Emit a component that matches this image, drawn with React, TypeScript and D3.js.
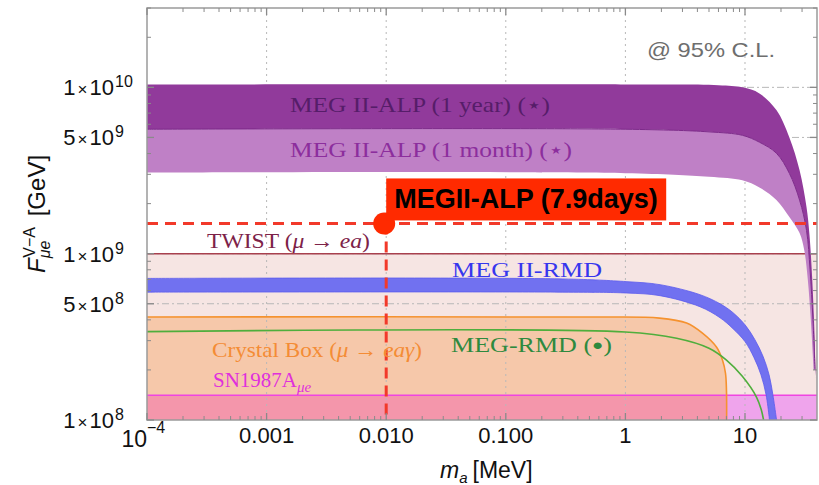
import React from "react";
import * as d3 from "d3";

const WIDTH = 819;
const HEIGHT = 485;

// Axis domains: ALP mass m_a in MeV, effective scale F in GeV
const massDomain: [number, number] = [1e-4, 40];
const scaleDomain: [number, number] = [1e8, 3e10];

// Each curve is a list of [m_a (MeV), F (GeV)] points
const alp1YearUpper: [number, number][] = [
  [1e-4, 1.04e10], [1, 1.04e10], [6, 1.03e10], [9.5, 1.0e10], [13.2, 9.2e9],
  [18.3, 7.3e9], [23.5, 5.0e9], [28.6, 3.17e9], [32.7, 1.9e9], [34.6, 1.3e9],
  [36.5, 7e8], [38, 3.5e8], [39, 1.8e8],
];
const alp1YearLower: [number, number][] = [
  [1e-4, 5.6e9], [1, 5.6e9], [5, 5.4e9], [9.5, 5.15e9], [13.2, 4.68e9],
  [18.3, 4.02e9], [23.5, 3.04e9], [28.6, 2.1e9], [32.7, 1.38e9], [35, 8e8],
  [37, 4e8], [38.5, 2e8],
];
const alp1MonthLower: [number, number][] = [
  [1e-4, 3.07e9], [1, 3.05e9], [5, 2.9e9], [9.5, 2.76e9], [13.2, 2.5e9],
  [18.3, 2.1e9], [23.5, 1.66e9], [28.6, 1.33e9], [31.3, 1.05e9], [33.5, 7e8],
  [35.5, 4e8], [37.5, 2e8],
];
const megIIRmdUpper: [number, number][] = [
  [1e-4, 7.1e8], [0.3, 7.05e8], [1.03, 6.79e8], [1.95, 6.51e8], [4.2, 5.67e8],
  [6.18, 5.0e8], [7.94, 4.42e8], [10, 3.74e8], [12.1, 3.04e8], [14.2, 2.4e8],
  [15.9, 1.87e8], [17.1, 1.42e8], [18.2, 1.05e8], [18.4, 1e8],
];
const megIIRmdLower: [number, number][] = [
  [1e-4, 5.87e8], [0.3, 5.87e8], [1.03, 5.8e8], [1.95, 5.59e8], [4.2, 4.8e8],
  [6.18, 4.12e8], [7.94, 3.54e8], [10, 2.96e8], [11.9, 2.37e8], [13.6, 1.87e8],
  [15.0, 1.42e8], [15.9, 1.05e8], [16.0, 1e8],
];
const crystalBox: [number, number][] = [
  [1e-4, 4.16e8], [0.5, 4.16e8], [1.93, 4.1e8], [3.25, 3.83e8], [4.41, 3.33e8],
  [5.79, 2.74e8], [6.49, 2.29e8], [6.87, 1.91e8], [7.0, 1.5e8], [7.02, 1e8],
];
const megRmd: [number, number][] = [
  [1e-4, 3.4e8], [1, 3.38e8], [2.68, 3.1e8], [5.0, 2.7e8], [7.0, 2.29e8],
  [9.5, 1.83e8], [12.5, 1.37e8], [13.7, 1.15e8], [14.3, 1e8],
];
const twistLimit = 1e9;
const sn1987aLimit = 1.41e8;
const megIIAlpMass = 0.01;
const megIIAlpScale = 1.52e9;

// Tick labels
const xTickValues = [1e-4, 1e-3, 1e-2, 1e-1, 1, 10];
const xTickLabels = ["10", "0.001", "0.010", "0.100", "1", "10"];
const yTickValues = [1e10, 5e9, 1e9, 5e8, 1e8];
const yTickMantissas = ["1", "5", "1", "5", "1"];
const yTickExponents = ["10", "9", "9", "8", "8"];

const SANS = "'Liberation Sans', Arial, sans-serif";
const SERIF = "'Liberation Serif', 'DejaVu Serif', serif";

export default function App() {
  const x = d3.scaleLog().domain(massDomain).range([147, 817]);
  const y = d3.scaleLog().domain(scaleDomain).range([420, 8]);
  const [x0, x1] = x.range();
  const [yBottom, yTop] = y.range();

  const line = d3
    .line<[number, number]>()
    .x((d) => x(d[0]))
    .y((d) => y(d[1]))
    .curve(d3.curveCatmullRom.alpha(0.5));

  const band = (upper: [number, number][], lower: [number, number][]) =>
    (line(upper) as string) +
    (line([...lower].reverse()) as string).replace(/^M/, "L") +
    "Z";

  const areaToBottom = (pts: [number, number][]) =>
    (line(pts) as string) +
    `L${x(pts[pts.length - 1][0])},${yBottom}L${x(pts[0][0])},${yBottom}Z`;

  // minor ticks
  const xMinor: number[] = [];
  for (let e = -4; e <= 1; e++)
    for (let k = 2; k <= 9; k++) {
      const v = k * Math.pow(10, e);
      if (v < massDomain[1]) xMinor.push(v);
    }
  const yMinor: number[] = [];
  for (let e = 8; e <= 10; e++)
    for (let k = 2; k <= 9; k++) {
      const v = k * Math.pow(10, e);
      if (v <= scaleDomain[1] && k !== 5) yMinor.push(v);
    }
  const yMajor = [1e8, 5e8, 1e9, 5e9, 1e10];

  const px = x(megIIAlpMass);
  const py = y(megIIAlpScale);

  return (
    <svg
      width={WIDTH}
      height={HEIGHT}
      style={{ position: "absolute", left: 0, top: 0, background: "#fff" }}
    >
      <defs>
        <clipPath id="plotArea">
          <rect x={x0} y={yTop} width={x1 - x0} height={yBottom - yTop} />
        </clipPath>
        <clipPath id="snRegion">
          <rect x={x0} y={y(sn1987aLimit)} width={x1 - x0} height={yBottom - y(sn1987aLimit)} />
        </clipPath>
      </defs>

      <g clipPath="url(#plotArea)">
        {/* TWIST excluded region */}
        <rect x={x0} y={y(twistLimit)} width={x1 - x0} height={yBottom - y(twistLimit)} fill="#f6e5e3" />
        {/* Crystal Box region */}
        <path d={areaToBottom(crystalBox)} fill="#f6c8aa" />
        {/* SN1987A region */}
        <rect x={x0} y={y(sn1987aLimit)} width={x1 - x0} height={yBottom - y(sn1987aLimit)} fill="#efa4ec" />
        <path d={areaToBottom(crystalBox)} fill="#f496ab" clipPath="url(#snRegion)" />

        {/* grid */}
        {xTickValues.slice(1).map((v) => (
          <line key={"gx" + v} x1={x(v)} x2={x(v)} y1={yTop} y2={yBottom} stroke="#b8b8b8" strokeWidth={1} strokeDasharray="2,4" />
        ))}
        {[1e10, 5e9, 1e9, 5e8].map((v) => (
          <line key={"gy" + v} x1={x0} x2={x1} y1={y(v)} y2={y(v)} stroke="#b8b8b8" strokeWidth={1} strokeDasharray="7,3,2,3" />
        ))}

        {/* limit lines */}
        <line x1={x0} x2={x1} y1={y(twistLimit)} y2={y(twistLimit)} stroke="#a8404e" strokeWidth={1.5} />
        <line x1={x0} x2={x1} y1={y(sn1987aLimit)} y2={y(sn1987aLimit)} stroke="#f045e2" strokeWidth={1.5} />
        <path d={line(crystalBox) as string} fill="none" stroke="#f5922f" strokeWidth={1.6} />
        <path d={line(megRmd) as string} fill="none" stroke="#4fae3c" strokeWidth={1.6} />

        {/* MEG II-RMD band */}
        <path d={band(megIIRmdUpper, megIIRmdLower)} fill="#7171f0" stroke="#5a5aee" strokeWidth={0.8} />

        {/* MEG II-ALP projections */}
        <path d={band(alp1YearLower, alp1MonthLower)} fill="#bf80c6" />
        <path d={band(alp1YearUpper, alp1YearLower)} fill="#913a9b" />
        <path d={line(alp1YearLower) as string} fill="none" stroke="#7d2a8a" strokeWidth={1} />

        {/* MEGII-ALP (7.9 days) sensitivity */}
        <line x1={x0} x2={x1} y1={py} y2={py} stroke="#f2392a" strokeWidth={3} strokeDasharray="11,7" />
        <line x1={px} x2={px} y1={py} y2={yBottom} stroke="#f2392a" strokeWidth={3} strokeDasharray="11,7" />
      </g>

      <circle cx={px - 2} cy={py} r={11} fill="#ff2a00" />
      <rect x={px} y={py - 45} width={280} height={42} fill="#ff2a00" />
      <text x={px + 8} y={py - 15} fontFamily={SANS} fontWeight="bold" fontSize={27} fill="#000">
        MEGII-ALP (7.9days)
      </text>

      {/* curve labels */}
      <text x={290} y={112} fontFamily={SERIF} fontSize={21} fill="#561d69" textLength={260} lengthAdjust="spacingAndGlyphs">
        MEG II-ALP (1 year) (⋆)
      </text>
      <text x={290} y={157} fontFamily={SERIF} fontSize={21} fill="#8c2e9d" textLength={282} lengthAdjust="spacingAndGlyphs">
        MEG II-ALP (1 month) (⋆)
      </text>
      <text x={207} y={248} fontFamily={SERIF} fontSize={21} fill="#7d2248" textLength={163} lengthAdjust="spacingAndGlyphs">
        TWIST (<tspan fontStyle="italic">μ</tspan> → <tspan fontStyle="italic">ea</tspan>)
      </text>
      <text x={452} y={277} fontFamily={SERIF} fontSize={21} fill="#3636ee" textLength={150} lengthAdjust="spacingAndGlyphs">
        MEG II-RMD
      </text>
      <text x={451} y={352} fontFamily={SERIF} fontSize={21} fill="#2e8a3e" textLength={161} lengthAdjust="spacingAndGlyphs">
        MEG-RMD (<tspan fontSize={15} dy={-2}>●</tspan><tspan dy={2}>)</tspan>
      </text>
      <text x={212} y={357} fontFamily={SERIF} fontSize={21} fill="#f48c35" textLength={210} lengthAdjust="spacingAndGlyphs">
        Crystal Box (<tspan fontStyle="italic">μ</tspan> → <tspan fontStyle="italic">eaγ</tspan>)
      </text>
      <text x={213} y={387} fontFamily={SERIF} fontSize={21} fill="#e030dc">
        SN1987A
        <tspan fontSize={15} fontStyle="italic" dy={5}>μe</tspan>
      </text>
      <text x={647} y={57} fontFamily={SANS} fontSize={21} fill="#6e6e6e" textLength={128} lengthAdjust="spacingAndGlyphs">
        @ 95% C.L.
      </text>

      {/* frame */}
      <rect x={x0} y={yTop} width={x1 - x0} height={yBottom - yTop} fill="none" stroke="#9a9a9a" strokeWidth={1.5} />

      {/* ticks */}
      {xTickValues.map((v) => (
        <g key={"xt" + v} stroke="#8a8a8a" strokeWidth={1.3}>
          <line x1={x(v)} x2={x(v)} y1={yBottom} y2={yBottom - 7} />
          <line x1={x(v)} x2={x(v)} y1={yTop} y2={yTop + 7} />
        </g>
      ))}
      {xMinor.map((v) => (
        <g key={"xm" + v} stroke="#8a8a8a" strokeWidth={1}>
          <line x1={x(v)} x2={x(v)} y1={yBottom} y2={yBottom - 4} />
          <line x1={x(v)} x2={x(v)} y1={yTop} y2={yTop + 4} />
        </g>
      ))}
      {yMajor.map((v) => (
        <g key={"ytk" + v} stroke="#8a8a8a" strokeWidth={1.3}>
          <line x1={x0} x2={x0 + 7} y1={y(v)} y2={y(v)} />
          <line x1={x1} x2={x1 - 7} y1={y(v)} y2={y(v)} />
        </g>
      ))}
      {yMinor.map((v) => (
        <g key={"ym" + v} stroke="#8a8a8a" strokeWidth={1}>
          <line x1={x0} x2={x0 + 4} y1={y(v)} y2={y(v)} />
          <line x1={x1} x2={x1 - 4} y1={y(v)} y2={y(v)} />
        </g>
      ))}

      {/* x tick labels */}
      {xTickValues.map((v, i) =>
        i === 0 ? (
          <g key={"xl" + v} fontFamily={SANS} fill="#111">
            <text x={x(v)} y={447} fontSize={23} textAnchor="end">{xTickLabels[i]}</text>
            <text x={x(v)} y={433} fontSize={16}>−4</text>
          </g>
        ) : (
          <text key={"xl" + v} x={x(v)} y={443} fontFamily={SANS} fontSize={22} textAnchor="middle" fill="#111">
            {xTickLabels[i]}
          </text>
        )
      )}

      {/* y tick labels */}
      {yTickValues.map((v, i) => (
        <g key={"yl" + v} fontFamily={SANS} fill="#111">
          <text x={114} y={y(v) + 8} fontSize={22} textAnchor="end">
            {yTickMantissas[i]}
            <tspan dx={2} fontSize={17}>×</tspan>
            <tspan dx={2}>10</tspan>
          </text>
          <text x={115} y={y(v)} fontSize={16}>{yTickExponents[i]}</text>
        </g>
      ))}

      {/* axis titles */}
      <text x={440} y={478} fontFamily={SANS} fontSize={23} fill="#111">
        <tspan fontStyle="italic">m</tspan>
        <tspan fontSize={15} fontStyle="italic" dy={5}>a</tspan>
        <tspan dy={-5} dx={5}>[MeV]</tspan>
      </text>
      <text transform="translate(45,273) rotate(-90)" fontFamily={SANS} fontSize={24} fill="#111">
        <tspan fontStyle="italic">F</tspan>
        <tspan fontSize={16} fontStyle="italic" dy={5}>μe</tspan>
        <tspan fontSize={16} dx={-17} dy={-15}>V−A</tspan>
        <tspan dx={4} dy={10}> [GeV]</tspan>
      </text>
    </svg>
  );
}
